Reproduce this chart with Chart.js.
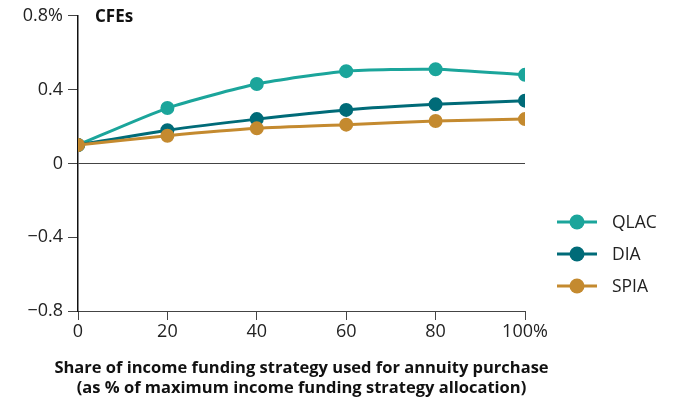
<!DOCTYPE html>
<html>
<head>
<meta charset="utf-8">
<script src="https://cdn.jsdelivr.net/npm/chart.js@4.4.1/dist/chart.umd.min.js"></script>
<style>
  html, body { margin: 0; padding: 0; background: #fff; }
  #wrap { width: 675px; height: 400px; }
</style>
</head>
<body>
<div id="wrap"><canvas id="cfeChart" width="675" height="400"></canvas></div>
<script>
const xValues = [0, 20, 40, 60, 80, 100];
const seriesNames = ['QLAC', 'DIA', 'SPIA'];
const qlacValues = [0.10, 0.30, 0.43, 0.50, 0.51, 0.48];
const diaValues = [0.10, 0.18, 0.24, 0.29, 0.32, 0.34];
const spiaValues = [0.10, 0.15, 0.19, 0.21, 0.23, 0.24];
const seriesColors = ['#1ba59b', '#006b78', '#c48a2f'];
const yTickLabels = { '0.8': '0.8%', '0.4': '0.4', '0': '0', '-0.4': '\u22120.4', '-0.8': '\u22120.8' };
const xTitle = ['Share of income funding strategy used for annuity purchase',
                '(as % of maximum income funding strategy allocation)'];

const FONT = '"Open Sans", Lato, sans-serif';
const ink = '#222';

const toPoints = vals => xValues.map((x, i) => ({ x: x, y: vals[i] }));

// "CFEs" label, x-axis title (drawn here so it isn't squeezed) and legend
const extras = {
    id: 'extras',
    afterDraw(chart) {
        const c = chart.ctx;
        const area = chart.chartArea;
        c.save();
        c.fillStyle = '#111';
        c.font = 'bold 17px ' + FONT;
        c.textBaseline = 'middle';
        c.fillText('CFEs', 95, 17);

        c.textAlign = 'center';
        c.textBaseline = 'alphabetic';
        c.font = 'bold 16.5px ' + FONT;
        const cx = (area.left + area.right) / 2;
        xTitle.forEach((line, i) => c.fillText(line, cx, 373 + i * 19.5));

        // datasets are stored reversed (SPIA drawn on top), legend goes QLAC, DIA, SPIA
        c.textAlign = 'left';
        c.textBaseline = 'middle';
        chart.data.datasets.slice().reverse().forEach((ds, i) => {
            const y = 222 + i * 32;
            c.strokeStyle = ds.borderColor;
            c.lineWidth = 3;
            c.beginPath();
            c.moveTo(557, y);
            c.lineTo(597, y);
            c.stroke();
            c.fillStyle = ds.borderColor;
            c.beginPath();
            c.arc(577, y, 7.5, 0, Math.PI * 2);
            c.fill();
            c.fillStyle = ink;
            c.font = '17.5px ' + FONT;
            c.fillText(ds.label, 612, y + 1);
        });
        c.restore();
    }
};

new Chart(document.getElementById('cfeChart'), {
    type: 'line',
    data: {
        datasets: [qlacValues, diaValues, spiaValues].map((vals, i) => ({
            label: seriesNames[i],
            data: toPoints(vals),
            borderColor: seriesColors[i],
            backgroundColor: seriesColors[i],
            borderWidth: 3,
            pointRadius: 5.5,
            pointHoverRadius: 5.5,
            tension: 0.2
        })).reverse()
    },
    options: {
        responsive: false,
        animation: false,
        layout: { padding: { left: 0, right: 150, top: 15, bottom: 2 } },
        plugins: {
            legend: { display: false },
            tooltip: { enabled: false }
        },
        scales: {
            x: {
                type: 'linear',
                min: 0,
                max: 100,
                afterFit: s => { s.height = 87; },
                ticks: {
                    stepSize: 20,
                    color: ink,
                    font: { family: FONT, size: 18 },
                    padding: 1,
                    callback: v => v === 100 ? '100%' : String(v)
                },
                grid: { drawOnChartArea: false, color: '#444', tickLength: 9, lineWidth: 1 },
                border: { display: false }
            },
            y: {
                min: -0.8,
                max: 0.8,
                afterFit: s => { s.width = 78; },
                ticks: {
                    stepSize: 0.4,
                    color: ink,
                    font: { family: FONT, size: 18 },
                    padding: 5,
                    callback: v => yTickLabels[String(Math.round(v * 10) / 10)]
                },
                grid: {
                    tickLength: 10,
                    color: ctx => (Math.abs(ctx.tick.value) < 1e-9 || ctx.tick.value < -0.79) ? '#444' : 'rgba(0,0,0,0)',
                    tickColor: '#444',
                    lineWidth: 1
                },
                border: { display: true, color: '#111', width: 1.5 }
            }
        }
    },
    plugins: [extras]
});
</script>
</body>
</html>
